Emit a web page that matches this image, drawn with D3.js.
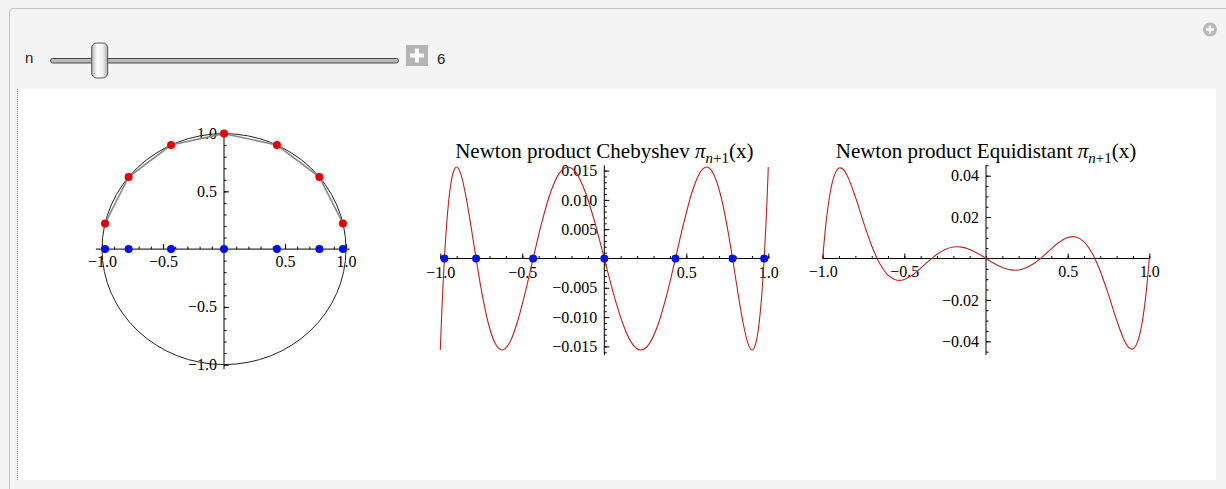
<!DOCTYPE html>
<html>
<head>
<meta charset="utf-8">
<script src="https://cdn.jsdelivr.net/npm/d3@7"></script>
<style>
  body { margin: 0; background: #f4f4f4; }
  svg { display: block; }
</style>
</head>
<body>
<svg id="chart" width="1226" height="489"></svg>
<script>
// ---- data ---------------------------------------------------------------
const sliderLabel = "n";
const nValue = 6;
const sliderMin = 1;
const sliderMax = 40;

// Chebyshev nodes (n = 6 → 7 nodes) and their heights on the unit circle
const chebNodes = [-0.974928, -0.781831, -0.433884, 0, 0.433884, 0.781831, 0.974928];
const circleHeights = [0.222521, 0.623490, 0.900969, 1, 0.900969, 0.623490, 0.222521];

// Newton product over the Chebyshev nodes
const chebCurveX = [
  -1, -0.998427, -0.993712, -0.985871, -0.974928, -0.960917, -0.943883, -0.923880,
  -0.900969, -0.875223, -0.846724, -0.815561, -0.781831, -0.745641, -0.707107, -0.666347,
  -0.623490, -0.578671, -0.532032, -0.483719, -0.433884, -0.382683, -0.330279, -0.276836,
  -0.222521, -0.167506, -0.111964, -0.056070, 0, 0.056070, 0.111964, 0.167506,
  0.222521, 0.276836, 0.330279, 0.382683, 0.433884, 0.483719, 0.532032, 0.578671,
  0.623490, 0.666347, 0.707107, 0.745641, 0.781831, 0.815561, 0.846724, 0.875223,
  0.900969, 0.923880, 0.943883, 0.960917, 0.974928, 0.985871, 0.993712, 0.998427, 1
];
const chebCurveY = [
  -0.015625, -0.014436, -0.011049, -0.005979, 0, 0.005979, 0.011049, 0.014436,
  0.015625, 0.014436, 0.011049, 0.005979, 0, -0.005979, -0.011049, -0.014436,
  -0.015625, -0.014436, -0.011049, -0.005979, 0, 0.005979, 0.011049, 0.014436,
  0.015625, 0.014436, 0.011049, 0.005979, 0, -0.005979, -0.011049, -0.014436,
  -0.015625, -0.014436, -0.011049, -0.005979, 0, 0.005979, 0.011049, 0.014436,
  0.015625, 0.014436, 0.011049, 0.005979, 0, -0.005979, -0.011049, -0.014436,
  -0.015625, -0.014436, -0.011049, -0.005979, 0, 0.005979, 0.011049, 0.014436, 0.015625
];

// Newton product over equidistant nodes
const equiCurveX = [
  -1, -0.975, -0.95, -0.925, -0.9, -0.875, -0.85, -0.8, -0.75, -0.7, -0.6667, -0.65,
  -0.6, -0.55, -0.5, -0.45, -0.4, -0.35, -0.3333, -0.3, -0.25, -0.2, -0.15, -0.1, -0.05,
  0, 0.05, 0.1, 0.15, 0.2, 0.25, 0.3, 0.3333, 0.35, 0.4, 0.45, 0.5, 0.55, 0.6, 0.65,
  0.6667, 0.7, 0.75, 0.8, 0.85, 0.875, 0.9, 0.925, 0.95, 0.975, 1
];
const equiCurveY = [
  0, 0.020457, 0.033577, 0.040882, 0.043688, 0.043111, 0.040100, 0.029787, 0.017486, 0.006162, 0, -0.002565,
  -0.008070, -0.010422, -0.010127, -0.007935, -0.004673, -0.001126, 0, 0.002043, 0.004352, 0.005522, 0.005482, 0.004349, 0.002394,
  0, -0.002394, -0.004349, -0.005482, -0.005522, -0.004352, -0.002043, 0, 0.001126, 0.004673, 0.007935, 0.010127, 0.010422, 0.008070, 0.002565,
  0, -0.006162, -0.017486, -0.029787, -0.040100, -0.043111, -0.043688, -0.040882, -0.033577, -0.020457, 0
];

// tick values and labels
const unitTicks = [-1, -0.5, 0.5, 1];
const unitTickLabels = ["\u22121.0", "\u22120.5", "0.5", "1.0"];
const chebYTicks = [-0.015, -0.010, -0.005, 0.005, 0.010, 0.015];
const chebYTickLabels = ["\u22120.015", "\u22120.010", "\u22120.005", "0.005", "0.010", "0.015"];
const equiYTicks = [-0.04, -0.02, 0.02, 0.04];
const equiYTickLabels = ["\u22120.04", "\u22120.02", "0.02", "0.04"];

const titleCheb = "Newton product Chebyshev";
const titleEqui = "Newton product Equidistant";

// ---- drawing ------------------------------------------------------------
const svg = d3.select("#chart");
const serif = "'Liberation Serif', 'Times New Roman', serif";
const sans = "'Liberation Sans', Arial, sans-serif";

// Manipulate frame
svg.append("rect").attr("x", 0).attr("y", 0).attr("width", 1226).attr("height", 489).attr("fill", "#f4f4f4");
svg.append("path").attr("d", "M9.5,489 V12 Q9.5,8.5 13,8.5 H1226")
  .attr("fill", "none").attr("stroke", "#c4c4c4");
svg.append("rect").attr("x", 17).attr("y", 89).attr("width", 1199).attr("height", 391).attr("fill", "#fff");
svg.append("line").attr("x1", 17.5).attr("x2", 17.5).attr("y1", 89).attr("y2", 480)
  .attr("stroke", "#8c8c8c").attr("stroke-dasharray", "1,1");

// corner "+" button
svg.append("circle").attr("cx", 1210).attr("cy", 29.5).attr("r", 7).attr("fill", "#b9b9b9");
svg.append("path").attr("d", "M1206,29.5 H1214 M1210,25.5 V33.5").attr("stroke", "#fff").attr("stroke-width", 2.4);

// slider
const sx = d3.scaleLinear().domain([sliderMin, sliderMax]).range([57, 390]);
svg.append("text").attr("x", 25).attr("y", 63).attr("font-family", sans).attr("font-size", 15)
  .attr("fill", "#222").text(sliderLabel);
svg.append("rect").attr("x", 50.5).attr("y", 58.5).attr("width", 348).attr("height", 4.5).attr("rx", 2.2)
  .attr("fill", "#b8b8b8").attr("stroke", "#4a4a4a").attr("stroke-width", 1);
const grad = svg.append("defs").append("linearGradient").attr("id", "thumb").attr("x1", 0).attr("x2", 1);
grad.append("stop").attr("offset", "0").attr("stop-color", "#b5b5b5");
grad.append("stop").attr("offset", "0.35").attr("stop-color", "#ffffff");
grad.append("stop").attr("offset", "0.7").attr("stop-color", "#eeeeee");
grad.append("stop").attr("offset", "1").attr("stop-color", "#a8a8a8");
svg.append("rect").attr("x", sx(nValue) - 8).attr("y", 43).attr("width", 16).attr("height", 35).attr("rx", 5)
  .attr("fill", "url(#thumb)").attr("stroke", "#555").attr("stroke-width", 1);
svg.append("rect").attr("x", 406).attr("y", 45).attr("width", 22).attr("height", 21).attr("fill", "#b4b4b4");
svg.append("path").attr("d", "M410,55.5 H424 M417,48.5 V62.5").attr("stroke", "#fff").attr("stroke-width", 4);
svg.append("text").attr("x", 437).attr("y", 63.5).attr("font-family", sans).attr("font-size", 15)
  .attr("fill", "#222").text(nValue);

// generic axes helper: ticks point into the plot, labels outside, no label at zero
function drawAxes(g, x, y, opt) {
  const ax = g.append("g");
  ax.append("line").attr("x1", x(opt.xExt[0])).attr("x2", x(opt.xExt[1]))
    .attr("y1", y(0)).attr("y2", y(0)).attr("stroke", "#000");
  ax.append("line").attr("x1", x(0)).attr("x2", x(0))
    .attr("y1", y(opt.yExt[0])).attr("y2", y(opt.yExt[1])).attr("stroke", "#000");

  const style = sel => {
    sel.select(".domain").remove();
    sel.selectAll("line").attr("stroke", "#000");
    sel.selectAll("text").attr("font-family", serif).attr("font-size", 16).attr("fill", "#000");
    sel.attr("font-family", null).attr("font-size", null);
  };
  ax.append("g").attr("transform", `translate(0,${y(0)})`)
    .call(d3.axisBottom(x).tickValues(opt.xMinor).tickSize(-2.5).tickFormat("")).call(style);
  ax.append("g").attr("transform", `translate(0,${y(0)})`)
    .call(d3.axisBottom(x).tickValues(opt.xMajor).tickSize(-5).tickPadding(opt.xPad)
      .tickFormat((d, i) => opt.xLabels[i])).call(style);
  ax.append("g").attr("transform", `translate(${x(0)},0)`)
    .call(d3.axisLeft(y).tickValues(opt.yMinor).tickSize(-2.5).tickFormat("")).call(style);
  ax.append("g").attr("transform", `translate(${x(0)},0)`)
    .call(d3.axisLeft(y).tickValues(opt.yMajor).tickSize(-5).tickPadding(7)
      .tickFormat((d, i) => opt.yLabels[i])).call(style);
  return ax;
}

function range(a, b, step) {
  const out = [];
  const n = Math.round((b - a) / step);
  for (let i = 0; i <= n; i++) out.push(+(a + i * step).toFixed(6));
  return out;
}

// ---- left: unit circle with Chebyshev nodes ----
{
  const g = svg.append("g");
  const x = d3.scaleLinear().domain([-1, 1]).range([102, 346]);
  const y = d3.scaleLinear().domain([-1, 1]).range([364.6, 133.6]);
  drawAxes(g, x, y, {
    xExt: [-1.05, 1.03], yExt: [1.03, -1.04],
    xMinor: range(-1, 1, 0.1), xMajor: unitTicks, xLabels: unitTickLabels, xPad: 7,
    yMinor: range(-1, 1, 0.1), yMajor: unitTicks, yLabels: unitTickLabels
  });
  g.append("ellipse").attr("cx", x(0)).attr("cy", y(0))
    .attr("rx", x(1) - x(0)).attr("ry", y(0) - y(1))
    .attr("fill", "none").attr("stroke", "#222").attr("stroke-width", 1);
  const pts = chebNodes.map((v, i) => [v, circleHeights[i]]);
  g.append("path").datum(pts)
    .attr("d", d3.line().x(d => x(d[0])).y(d => y(d[1])))
    .attr("fill", "none").attr("stroke", "#8a8a8a").attr("stroke-width", 1.6);
  g.selectAll(".red").data(pts).join("circle")
    .attr("cx", d => x(d[0])).attr("cy", d => y(d[1])).attr("r", 4).attr("fill", "#e80000");
  g.selectAll(".blue").data(chebNodes).join("circle")
    .attr("cx", d => x(d)).attr("cy", y(0)).attr("r", 4).attr("fill", "#0010f0");
}

function drawTitle(cx, text) {
  const t = svg.append("text").attr("x", cx).attr("y", 157.5).attr("text-anchor", "middle")
    .attr("font-family", serif).attr("font-size", 21).attr("fill", "#000");
  t.append("tspan").text(text + " ");
  t.append("tspan").attr("font-style", "italic").text("\u03c0");
  const sub = t.append("tspan").attr("font-size", 15).attr("dy", 5);
  sub.append("tspan").attr("font-style", "italic").text("n");
  sub.append("tspan").text("+1");
  t.append("tspan").attr("dy", -5).text("(x)");
}

// ---- middle: Chebyshev product ----
{
  const g = svg.append("g");
  const x = d3.scaleLinear().domain([-1, 1]).range([440.3, 768.3]);
  const y = d3.scaleLinear().domain([-0.015, 0.015]).range([346.4, 170.6]);
  drawAxes(g, x, y, {
    xExt: [-1, 1], yExt: [0.0159, -0.0165],
    xMinor: range(-1, 1, 0.1), xMajor: unitTicks, xLabels: unitTickLabels, xPad: 8.5,
    yMinor: range(-0.016, 0.015, 0.001), yMajor: chebYTicks, yLabels: chebYTickLabels
  });
  const pts = chebCurveX.map((v, i) => [v, chebCurveY[i]]);
  g.append("path").datum(pts)
    .attr("d", d3.line().x(d => x(d[0])).y(d => y(d[1])).curve(d3.curveMonotoneX))
    .attr("fill", "none").attr("stroke", "#c02020").attr("stroke-width", 1.1);
  g.selectAll(".blue").data(chebNodes).join("circle")
    .attr("cx", d => x(d)).attr("cy", y(0)).attr("r", 4).attr("fill", "#0010f0");
  drawTitle(x(0), titleCheb);
}

// ---- right: equidistant product ----
{
  const g = svg.append("g");
  const x = d3.scaleLinear().domain([-1, 1]).range([822.7, 1149.3]);
  const y = d3.scaleLinear().domain([-0.04, 0.04]).range([341.3, 175.7]);
  drawAxes(g, x, y, {
    xExt: [-1, 1], yExt: [0.0452, -0.0466],
    xMinor: range(-1, 1, 0.1), xMajor: unitTicks, xLabels: unitTickLabels, xPad: 7.5,
    yMinor: range(-0.045, 0.045, 0.005), yMajor: equiYTicks, yLabels: equiYTickLabels
  });
  const pts = equiCurveX.map((v, i) => [v, equiCurveY[i]]);
  g.append("path").datum(pts)
    .attr("d", d3.line().x(d => x(d[0])).y(d => y(d[1])).curve(d3.curveCatmullRom))
    .attr("fill", "none").attr("stroke", "#c02020").attr("stroke-width", 1.1);
  drawTitle(x(0), titleEqui);
}
</script>
</body>
</html>
